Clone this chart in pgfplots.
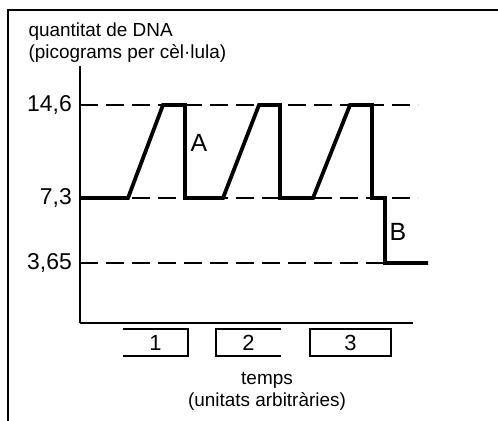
\documentclass[border=0pt]{standalone}
\usepackage{fontspec}
\setmainfont{Liberation Sans}
\usepackage{pgfplots}
\pgfplotsset{compat=1.18}

\begin{document}
\begin{tikzpicture}
\useasboundingbox (0bp,0bp) rectangle (498bp,-421bp);

\begin{axis}[
    at={(80bp,-323bp)}, anchor=south west,
    scale only axis,
    width=333bp, height=257bp,
    xmin=80, xmax=413,
    ymin=0, ymax=17.66,
    % the DNA scale of the drawing is not linear: map the levels piecewise
    y coord trafo/.code={\pgfmathparse{#1<3.65 ? #1*60/3.65 : (#1<7.3 ? 60+(#1-3.65)*65/3.65 : 125+(#1-7.3)*93/7.3)}},
    axis x line=bottom, axis y line=left,
    axis line style={line width=1.3bp, -},
    xtick=\empty,
    ytick={3.65,7.3,14.6},
    yticklabels={{3,65},{7,3},{14,6}},
    major tick length=0pt,
    /pgf/number format/assume math mode=true,
    yticklabel style={font=\fontsize{23}{23}\selectfont, inner sep=8bp},
    clip=false,
]
% reference levels
\addplot[line width=1.2bp, dash pattern=on 18bp off 8bp] coordinates {(80,14.6) (418,14.6)};
\addplot[line width=1.2bp, dash pattern=on 18bp off 8bp] coordinates {(80,7.3) (418,7.3)};
\addplot[line width=1.2bp, dash pattern=on 18bp off 8bp] coordinates {(80,3.65) (418,3.65)};
% DNA content per cell
\addplot[line width=3.8bp, line join=miter, miter limit=2] coordinates {
    (80,7.3) (128,7.3) (163,14.6) (185,14.6) (185,7.3)
    (223,7.3) (259,14.6) (280,14.6) (280,7.3)
    (313,7.3) (350,14.6) (372,14.6) (372,7.3)
    (385,7.3) (385,3.65) (428,3.65)
};
\end{axis}

\begin{scope}[x=1bp,y=-1bp]
% outer frame
\draw[line width=1.6bp] (8,421) -- (8,10) -- (498,10);

% titles
\node[anchor=west, font=\fontsize{19}{19}\selectfont] at (25,32) {quantitat de DNA};
\node[anchor=west, font=\fontsize{19}{19}\selectfont] at (25,53) {(picograms per cèl·lula)};
\node[font=\fontsize{19}{19}\selectfont] at (267,380) {temps};
\node[font=\fontsize{19}{19}\selectfont] at (267,401) {(unitats arbitràries)};

% labels on the curve
\node[font=\fontsize{25}{25}\selectfont] at (199,143) {A};
\node[font=\fontsize{25}{25}\selectfont] at (398,232) {B};

% phase boxes (first open on the left, second open on the right)
\draw[line width=1.1bp] (123,329) -- (188,329) -- (188,356) -- (123,356);
\draw[line width=1.1bp] (281,329) -- (216,329) -- (216,356) -- (281,356);
\draw[line width=1.1bp] (310,329) rectangle (391,356);
\node[font=\fontsize{22}{22}\selectfont] at (155.5,342.5) {1};
\node[font=\fontsize{22}{22}\selectfont] at (248.5,342.5) {2};
\node[font=\fontsize{22}{22}\selectfont] at (350.5,342.5) {3};
\end{scope}
\end{tikzpicture}
\end{document}
